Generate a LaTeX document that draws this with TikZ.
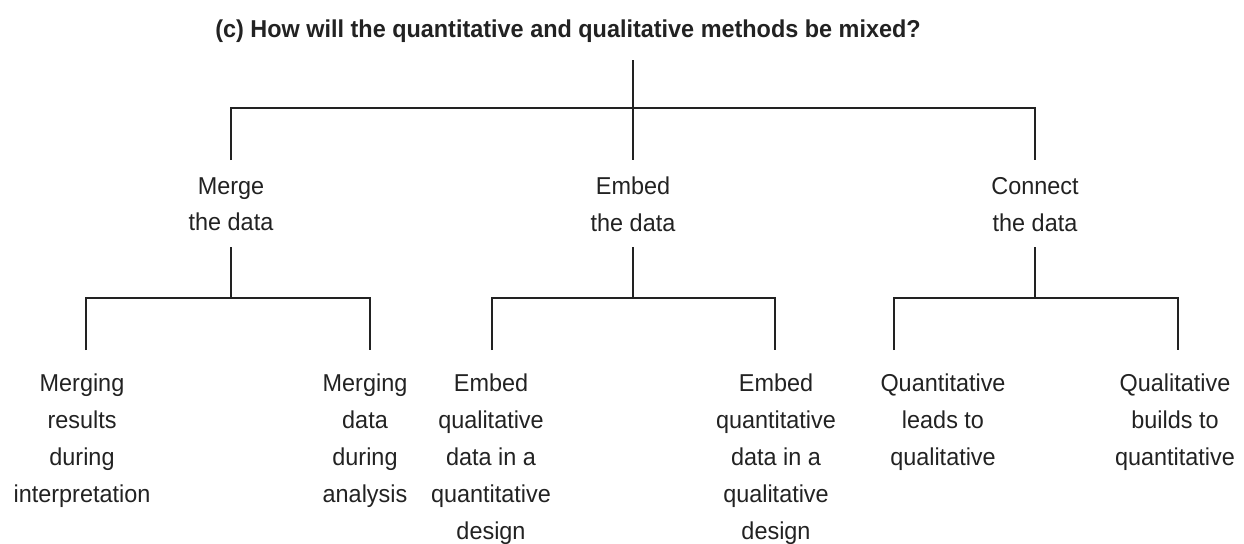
\documentclass[tikz,border=0pt]{standalone}
\usepackage{fontspec}
\setmainfont{Liberation Sans}[FakeStretch=0.96]
\usetikzlibrary{positioning}
\definecolor{inkgray}{HTML}{222222}

\begin{document}
\begin{tikzpicture}[x=0.75pt,y=-0.75pt,
    every node/.style={inner sep=0pt,text=inkgray,font=\fontsize{18.3}{27.6}\selectfont},
    branch/.style={anchor=north,align=center},
    tline/.style={draw=inkgray,line width=0.95pt},
    topline/.style={tline,line width=1.3pt}]
  \useasboundingbox (0,0) rectangle (1244,543);

  \node[anchor=base,font=\fontsize{18.3}{27.6}\selectfont\bfseries] (title) at (568,37)
    {(c) How will the quantitative and qualitative methods be mixed?};

  % second level
  \node[branch] (merge)   at (231,177)  {Merge\\the data};
  \node[branch] (embed)   at (633,177)  {Embed\\the data};
  \node[branch] (connect) at (1035,177) {Connect\\the data};

  % leaves
  \node[branch] (mres)  at (82,374)   {Merging\\results\\during\\interpretation};
  \node[branch] (mdat)  at (365,374)  {Merging\\data\\during\\analysis};
  \node[branch] (equal) at (491,374)  {Embed\\qualitative\\data in a\\quantitative\\design};
  \node[branch] (equan) at (776,374)  {Embed\\quantitative\\data in a\\qualitative\\design};
  \node[branch] (cquan) at (943,374)  {Quantitative\\leads to\\qualitative};
  \node[branch] (cqual) at (1175,374) {Qualitative\\builds to\\quantitative};

  \coordinate (root) at (633,60);
  \coordinate (hub)  at (633,108);
  \coordinate (mergeup)   at (231,160);
  \coordinate (embedup)   at (633,160);
  \coordinate (connectup) at (1035,160);
  \coordinate (mergedown)   at (231,247);
  \coordinate (embeddown)   at (633,247);
  \coordinate (connectdown) at (1035,247);
  \coordinate (mhub) at (231,298);
  \coordinate (ehub) at (633,298);
  \coordinate (chub) at (1035,298);
  \coordinate (mresup)  at (86,350);
  \coordinate (mdatup)  at (370,350);
  \coordinate (equalup) at (492,350);
  \coordinate (equanup) at (775,350);
  \coordinate (cquanup) at (894,350);
  \coordinate (cqualup) at (1178,350);

  \draw[topline] (root) -- (hub);
  \draw[topline] (mergeup) |- (hub) -| (connectup);
  \draw[tline] (hub) -- (embedup);

  \draw[tline] (mergedown) -- (mhub);
  \draw[tline] (mresup) |- (mhub) -| (mdatup);
  \draw[tline] (embeddown) -- (ehub);
  \draw[tline] (equalup) |- (ehub) -| (equanup);
  \draw[tline] (connectdown) -- (chub);
  \draw[tline] (cquanup) |- (chub) -| (cqualup);
\end{tikzpicture}
\end{document}
